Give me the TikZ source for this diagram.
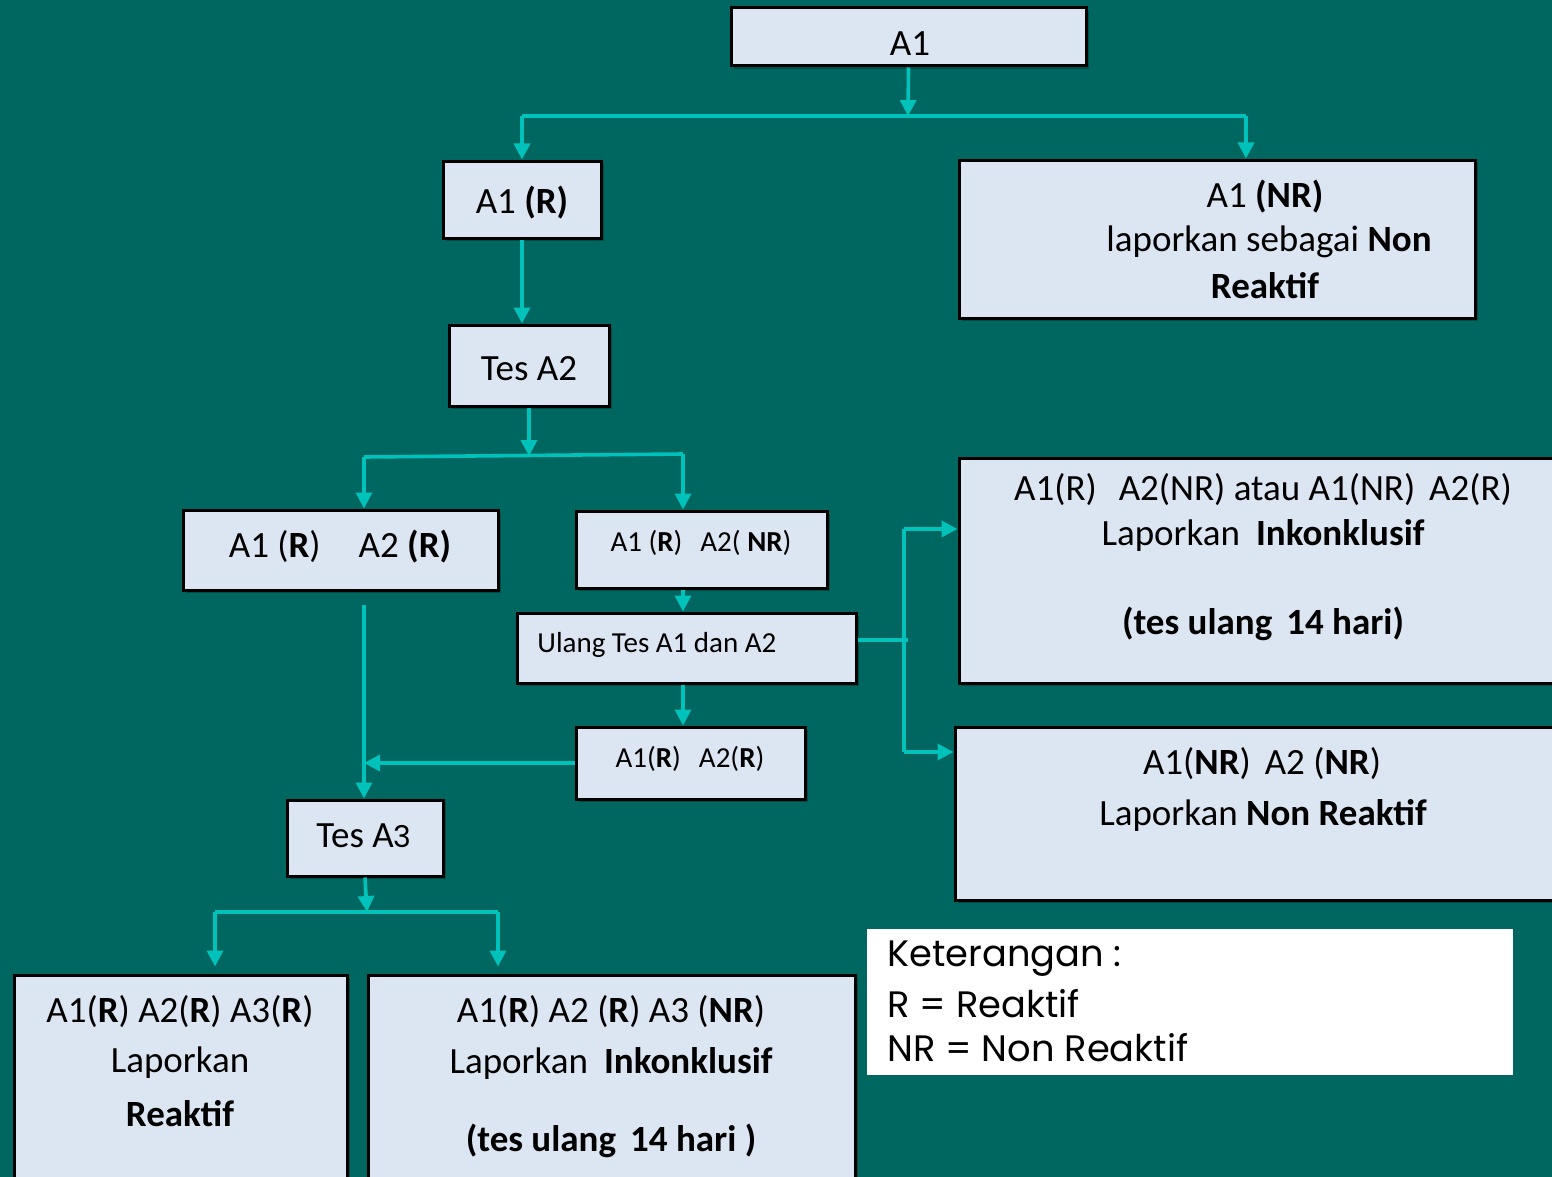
\documentclass[tikz,border=0pt]{standalone}
\usepackage{fontspec}
\setmainfont{Carlito}
\newfontfamily\legfont{Poppins}
\usetikzlibrary{arrows.meta,fit,shadows}
\definecolor{bgc}{RGB}{0,102,96}
\definecolor{boxfill}{RGB}{220,230,242}
\definecolor{connc}{RGB}{0,194,186}
\begin{document}
\begin{tikzpicture}[x=0.5pt,y=-0.5pt,
  box/.style={draw=black, line width=1.5pt, fill=boxfill, inner sep=0pt,
    general shadow={fill=black, opacity=0.25, shadow xshift=1.5pt, shadow yshift=-1.5pt}},
  conn/.style={draw=connc, line width=1.8pt},
  arr/.style={conn, -{Triangle[length=8pt,width=8pt]}},
  big/.style={font=\fontsize{18.5}{22}\selectfont, text=black, inner sep=0pt},
  small/.style={font=\fontsize{14.5}{17}\selectfont, text=black, inner sep=0pt},
  leg/.style={font=\legfont\fontsize{18.4}{22}\selectfont, text=black, inner sep=0pt, anchor=west}]
\useasboundingbox (0,0) rectangle (1552,1177);
\fill[bgc] (0,0) rectangle (1552,1177);
\clip (0,0) rectangle (1552,1177);

% boxes
\node[box, fit={(731,8)(1086,66)}] (a1) {};
\node[box, fit={(443,161)(601,238)}] (ar) {};
\node[box, fit={(959,160)(1475,318)}] (anr) {};
\node[box, fit={(449,325)(609,406)}] (tesa2) {};
\node[box, fit={(183,510)(498,590)}] (rr) {};
\node[box, fit={(576,511)(827,588)}] (rnr) {};
\node[box, fit={(517,613)(856,683)}] (ulang) {};
\node[box, fit={(576,727)(805,799)}] (rr2) {};
\node[box, fit={(287,800)(443,876)}] (tesa3) {};
\node[box, fit={(959,458)(1600,683)}] (ink) {};
\node[box, fit={(955,727)(1600,900)}] (nrb) {};
\node[box, fit={(14,975)(347,1230)}] (rrr) {};
\node[box, fit={(368,975)(855,1230)}] (rrnr) {};
\node[fill=white, inner sep=0pt, fit={(867,929)(1513,1075)}] (legend) {};

% texts
\node[big] (t1) at (910,44) {A1};
\node[big] (t2) at (522,203) {A1 \textbf{(R)}};
\node[big] (t3a) at (1265,197) {A1 \textbf{(NR)}};
\node[big] (t3b) at (1269,242) {laporkan sebagai \textbf{Non}};
\node[big] (t3c) at (1265,286) {\textbf{Reaktif}};
\node[big] (t4) at (529,369) {Tes A2};
\node[big] (t5) at (340,547) {A1 (\textbf{R})\hspace{19pt}A2 \textbf{(R)}};
\node[small] (t6) at (701,543) {A1 (\textbf{R})\hspace{9pt}A2( \textbf{NR})};
\node[small, anchor=west] (t7) at (537,645) {Ulang Tes A1 dan A2};
\node[small] (t8) at (690,759) {A1(\textbf{R})\hspace{9pt}A2(\textbf{R})};
\node[big] (t9) at (364,836) {Tes A{\legfont\fontsize{15}{18}\selectfont 3}};
\node[big] (t10a) at (1263,490) {A1(R)\hspace{11pt}A2(NR) atau A1(NR)\hspace{7pt}A2(R)};
\node[big] (t10b) at (1263,535) {Laporkan\hspace{8pt}\textbf{Inkonklusif}};
\node[big] (t10c) at (1263,624) {\textbf{(tes ulang\hspace{7pt}14 hari)}};
\node[big] (t11a) at (1262,764) {A1(\textbf{NR})\hspace{7pt}A2 (\textbf{NR})};
\node[big] (t11b) at (1263,815) {Laporkan \textbf{Non Reaktif}};
\node[big] (t12a) at (180,1012) {A1(\textbf{R}) A2(\textbf{R}) A3(\textbf{R})};
\node[big] (t12b) at (180,1063) {Laporkan};
\node[big] (t12c) at (180,1114) {\textbf{Reaktif}};
\node[big] (t13a) at (611,1012) {A1(\textbf{R}) A2 (\textbf{R}) A3 (\textbf{NR})};
\node[big] (t13b) at (611,1063) {Laporkan\hspace{8pt}\textbf{Inkonklusif}};
\node[big] (t13c) at (611,1141) {\textbf{(tes ulang\hspace{7pt}14 hari )}};
\node[leg] (l1) at (887,959) {Keterangan :};
\node[leg] (l2) at (887,1004) {R = Reaktif};
\node[leg] (l3) at (887,1048) {NR = Non Reaktif};

% junction coordinates
\coordinate (j1) at (908,116);
\coordinate (jl1) at (522,116);
\coordinate (jr1) at (1246,116);
\coordinate (j2) at (529,456);
\coordinate (jl2) at (364,457);
\coordinate (jr2) at (683,454);
\coordinate (lv) at (364,605);
\coordinate (j3) at (367,912);
\coordinate (jl3) at (215,912);
\coordinate (jr3) at (498,912);
\coordinate (rvm) at (908,640);
\coordinate (rv1) at (904,529);
\coordinate (rv2) at (904,752);

% connectors
\draw[arr] (a1.south) -- (j1);
\draw[conn] (jl1) -- (jr1);
\draw[arr] (jl1) -- (ar.north);
\draw[arr] (jr1) -- (jr1 |- anr.north);
\draw[arr] (ar.south) -- (ar.south |- tesa2.north);
\draw[arr] (tesa2.south) -- (j2);
\draw[conn] (jl2) -- (jr2);
\draw[arr] (jl2) -- (jl2 |- rr.north);
\draw[arr] (jr2) -- (jr2 |- rnr.north);
\draw[arr] (rnr.south -| jr2) -- (ulang.north -| jr2);
\draw[arr] (ulang.south -| jr2) -- (rr2.north -| jr2);
\draw[arr] (lv) -- (lv |- tesa3.north);
\draw[arr] (rr2.west) -- (rr2.west -| lv);
\draw[arr] (tesa3.south) -- (j3);
\draw[conn] (jl3) -- (jr3);
\draw[arr, shorten >=3.5pt] (jl3) -- (jl3 |- rrr.north);
\draw[arr, shorten >=3.5pt] (jr3) -- (jr3 |- rrnr.north);
\draw[conn] (rvm -| ulang.east) -- (rvm);
\draw[conn] (rv1) -- (rv2);
\draw[arr] (rv1) -- (rv1 -| ink.west);
\draw[arr] (rv2) -- (rv2 -| nrb.west);
\end{tikzpicture}
\end{document}
